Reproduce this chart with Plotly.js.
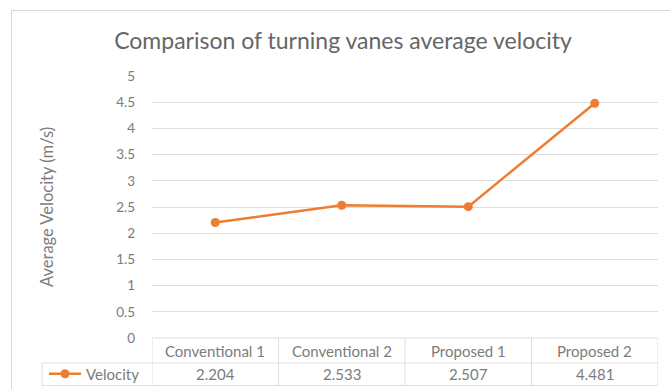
<!DOCTYPE html>
<html>
<head>
<meta charset="utf-8">
<script src="https://cdn.plot.ly/plotly-3.0.1.min.js"></script>
<style>html,body{margin:0;padding:0;background:#fff;}#chart{width:670px;height:389px;}</style>
</head>
<body>
<div id="chart"></div>
<script>
const categories = ["Conventional 1", "Conventional 2", "Proposed 1", "Proposed 2"];
const velocity = [2.204, 2.533, 2.507, 4.481];
const valueLabels = ["2.204", "2.533", "2.507", "4.481"];
const seriesName = "Velocity";
const chartTitle = "Comparison of turning vanes average velocity";
const yTitle = "Average Velocity (m/s)";

const FONT = "Lato, 'Open Sans', sans-serif";
const TXT = "#7c7c7c";
const GRID = "#dedede";

// plot area in pixels: x 152..658, y 76..338
const L = 152, R = 658, T = 76, B = 338;
const px = x => (x - L) / (R - L);
const py = y => (B - y) / (B - T);

const trace = {
  x: categories,
  y: velocity,
  type: "scatter",
  mode: "lines+markers",
  name: seriesName,
  line: {color: "#ED7D31", width: 2.5},
  marker: {color: "#ED7D31", size: 9},
  showlegend: true,
  hoverinfo: "x+y"
};

const annotations = [];
categories.forEach((c, i) => {
  annotations.push({x: c, xref: "x", y: py(350.5), yref: "paper", text: c, showarrow: false,
    font: {family: FONT, size: 15, color: TXT}, xanchor: "center", yanchor: "middle"});
  annotations.push({x: c, xref: "x", y: py(374), yref: "paper", text: valueLabels[i], showarrow: false,
    font: {family: FONT, size: 15, color: TXT}, xanchor: "center", yanchor: "middle"});
});
annotations.push({x: px(47), xref: "paper", y: py(207), yref: "paper", text: yTitle, textangle: -90,
  showarrow: false, font: {family: FONT, size: 16.5, color: TXT}, xanchor: "center", yanchor: "middle"});

const shapes = [];
const lineStyle = {color: GRID, width: 1};
// outer chart border
shapes.push({type: "rect", xref: "paper", yref: "paper", x0: px(11.5), x1: px(690), y0: py(10.5), y1: py(400),
  line: {color: "#d6d6d6", width: 1}, layer: "below"});
// table horizontal lines
shapes.push({type: "line", xref: "paper", yref: "paper", x0: px(L), x1: px(R), y0: py(338), y1: py(338), line: lineStyle});
shapes.push({type: "line", xref: "paper", yref: "paper", x0: px(42), x1: px(R), y0: py(363), y1: py(363), line: lineStyle});
shapes.push({type: "line", xref: "paper", yref: "paper", x0: px(42), x1: px(R), y0: py(385.5), y1: py(385.5), line: lineStyle});
// table vertical lines at category boundaries
for (let i = 0; i <= categories.length; i++) {
  shapes.push({type: "line", xref: "x", yref: "paper", x0: i - 0.5, x1: i - 0.5, y0: py(338), y1: py(385.5), line: lineStyle});
}
shapes.push({type: "line", xref: "paper", yref: "paper", x0: px(42), x1: px(42), y0: py(363), y1: py(385.5), line: lineStyle});

const layout = {
  width: 670, height: 389,
  margin: {l: L, r: 670 - R, t: T, b: 389 - B, autoexpand: false},
  paper_bgcolor: "#ffffff", plot_bgcolor: "#ffffff",
  font: {family: FONT, color: TXT},
  title: {text: chartTitle, x: 343 / 670, xref: "container", xanchor: "center",
    y: 1 - 41 / 389, yref: "container", yanchor: "middle",
    font: {family: FONT, size: 23, color: "#666666"}},
  xaxis: {type: "category", range: [-0.5, categories.length - 0.5], showticklabels: false,
    showgrid: false, zeroline: false, showline: false, ticks: "", fixedrange: true},
  yaxis: {range: [0, 5], dtick: 0.5, tick0: 0, showgrid: true, gridcolor: GRID, gridwidth: 1,
    zeroline: false, showline: false, ticks: "", ticklabelstandoff: 16,
    tickfont: {family: FONT, size: 13.5, color: TXT}, fixedrange: true},
  showlegend: true,
  legend: {x: px(44), xanchor: "left", y: py(374), yanchor: "middle", orientation: "h",
    bgcolor: "rgba(0,0,0,0)", borderwidth: 0, font: {family: FONT, size: 15, color: TXT},
    itemwidth: 32},
  annotations: annotations,
  shapes: shapes
};

Plotly.newPlot("chart", [trace], layout, {displayModeBar: false, staticPlot: true});
</script>
</body>
</html>
